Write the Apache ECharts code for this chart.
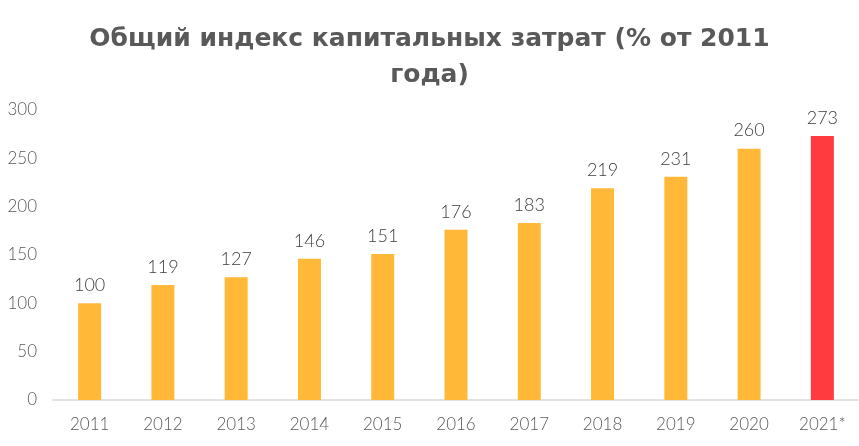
<!DOCTYPE html>
<html>
<head>
<meta charset="utf-8">
<script src="https://cdn.jsdelivr.net/npm/echarts@6/dist/echarts.min.js"></script>
<style>
  html, body { margin: 0; padding: 0; background: #fff; }
  #chart { width: 859px; height: 446px; }
</style>
</head>
<body>
<div id="chart"></div>
<script>
var years = ['2011', '2012', '2013', '2014', '2015', '2016', '2017', '2018', '2019', '2020', '2021*'];
var values = [100, 119, 127, 146, 151, 176, 183, 219, 231, 260, 273];
var yTicks = [0, 50, 100, 150, 200, 250, 300];

var chart = echarts.init(document.getElementById('chart'));

var barData = values.map(function (v, i) {
    return {
        value: v,
        itemStyle: { color: i === values.length - 1 ? '#FF3B3F' : '#FFB838' }
    };
});

chart.setOption({
    animation: false,
    textStyle: { fontFamily: 'Lato' },
    title: {
        text: 'Общий индекс капитальных затрат (% от 2011\nгода)',
        left: 'center',
        top: 16,
        textStyle: {
            fontFamily: 'DejaVu Sans',
            fontWeight: 'bold',
            fontSize: 25,
            lineHeight: 36,
            color: '#595959'
        }
    },
    grid: {
        left: 53,
        top: 110,
        width: 812,
        height: 290,
        containLabel: false
    },
    xAxis: {
        type: 'category',
        data: years,
        axisLine: { lineStyle: { color: '#D9D9D9', width: 1.5 } },
        axisTick: { show: false },
        axisLabel: { color: '#595959', fontSize: 17, fontWeight: 300, margin: 16 }
    },
    yAxis: {
        type: 'value',
        min: yTicks[0],
        max: yTicks[yTicks.length - 1],
        interval: 50,
        splitLine: { show: false },
        axisLine: { show: false },
        axisTick: { show: false },
        axisLabel: { color: '#595959', fontSize: 17, fontWeight: 300, margin: 16 }
    },
    series: [{
        type: 'bar',
        data: barData,
        barWidth: 23,
        label: {
            show: true,
            position: 'top',
            distance: 9,
            color: '#404040',
            fontSize: 18,
            fontWeight: 300
        }
    }]
});
</script>
</body>
</html>
